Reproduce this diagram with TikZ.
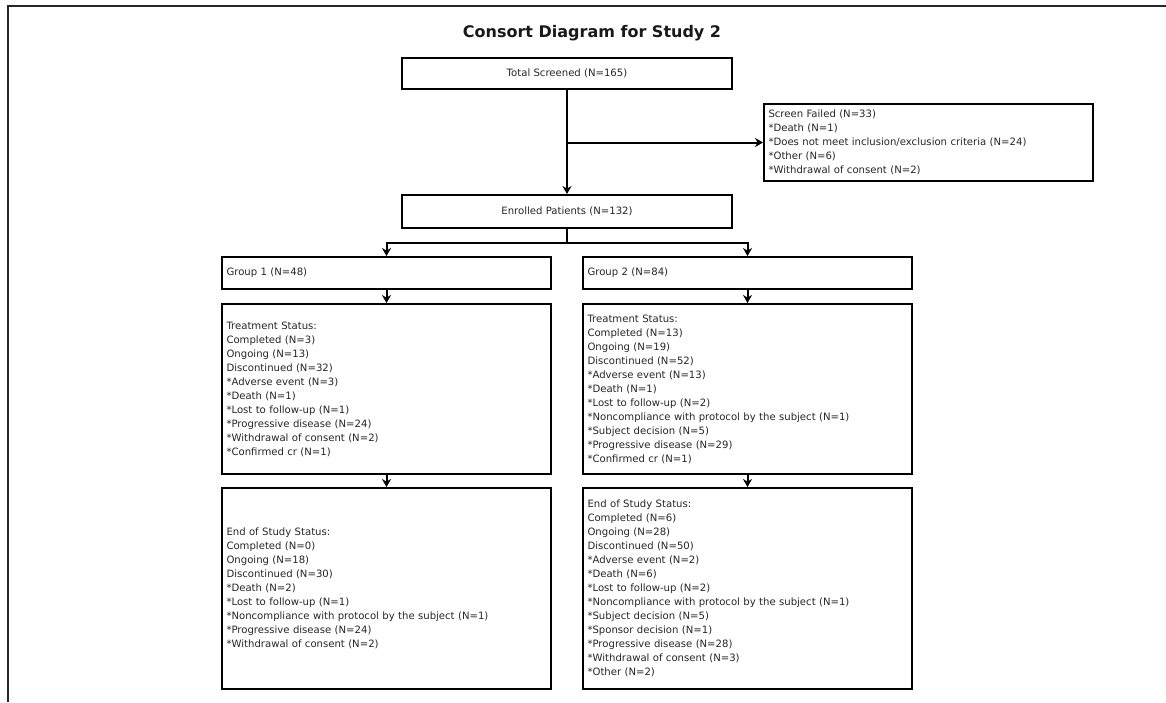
\documentclass[tikz,border=0pt]{standalone}
\usepackage{fontspec}
\setmainfont{DejaVu Sans}
\usetikzlibrary{arrows.meta}
\begin{document}
\begin{tikzpicture}[x=1pt,y=-1pt,
  box/.style={draw=black,line width=1.9pt,inner sep=0pt,
    font=\fontsize{10.1}{14}\selectfont,text=black!85},
  cbox/.style={box,align=center},
  lbox/.style={box,align=left,inner xsep=4.5pt},
  arr/.style={line width=2pt,-{Stealth[length=8pt,width=9pt,inset=2.5pt]}},
  seg/.style={line width=2pt}]
\useasboundingbox (0,0) rectangle (1166,702);
% outer frame (only top and left edges fall inside the page)
\draw[line width=2pt,black!85] (8,702) -- (8,6) -- (1166,6);

\node[font=\bfseries\fontsize{16}{18}\selectfont,text=black!90] (title) at (592,33) {Consort Diagram for Study 2};

\node[cbox,minimum width=330pt,minimum height=31pt] (total) at (567,73.5) {Total Screened (N=165)};
\node[cbox,minimum width=330pt,minimum height=33pt] (enrolled) at (567,211.5) {Enrolled Patients (N=132)};

\node[lbox,text width=320pt,minimum height=77pt] (screen) at (928.5,142.5)
  {Screen Failed (N=33)\\{}%
   *Death (N=1)\\{}%
   *Does not meet inclusion/exclusion criteria (N=24)\\{}%
   *Other (N=6)\\{}%
   *Withdrawal of consent (N=2)};

\node[lbox,text width=320pt,minimum height=32pt] (g1) at (386.5,273) {Group 1 (N=48)};
\node[lbox,text width=320pt,minimum height=32pt] (g2) at (747.5,273) {Group 2 (N=84)};

\node[lbox,text width=320pt,minimum height=170pt] (t1) at (386.5,389)
  {Treatment Status:\\
   Completed (N=3)\\
   Ongoing (N=13)\\
   Discontinued (N=32)\\{}%
   *Adverse event (N=3)\\{}%
   *Death (N=1)\\{}%
   *Lost to follow-up (N=1)\\{}%
   *Progressive disease (N=24)\\{}%
   *Withdrawal of consent (N=2)\\{}%
   *Confirmed cr (N=1)};
\node[lbox,text width=320pt,minimum height=170pt] (t2) at (747.5,389)
  {Treatment Status:\\
   Completed (N=13)\\
   Ongoing (N=19)\\
   Discontinued (N=52)\\{}%
   *Adverse event (N=13)\\{}%
   *Death (N=1)\\{}%
   *Lost to follow-up (N=2)\\{}%
   *Noncompliance with protocol by the subject (N=1)\\{}%
   *Subject decision (N=5)\\{}%
   *Progressive disease (N=29)\\{}%
   *Confirmed cr (N=1)};

\node[lbox,text width=320pt,minimum height=201pt] (e1) at (386.5,588.5)
  {End of Study Status:\\
   Completed (N=0)\\
   Ongoing (N=18)\\
   Discontinued (N=30)\\{}%
   *Death (N=2)\\{}%
   *Lost to follow-up (N=1)\\{}%
   *Noncompliance with protocol by the subject (N=1)\\{}%
   *Progressive disease (N=24)\\{}%
   *Withdrawal of consent (N=2)};
\node[lbox,text width=320pt,minimum height=201pt] (e2) at (747.5,588.5)
  {End of Study Status:\\
   Completed (N=6)\\
   Ongoing (N=28)\\
   Discontinued (N=50)\\{}%
   *Adverse event (N=2)\\{}%
   *Death (N=6)\\{}%
   *Lost to follow-up (N=2)\\{}%
   *Noncompliance with protocol by the subject (N=1)\\{}%
   *Subject decision (N=5)\\{}%
   *Sponsor decision (N=1)\\{}%
   *Progressive disease (N=28)\\{}%
   *Withdrawal of consent (N=3)\\{}%
   *Other (N=2)};

% connectors
\draw[arr] (total.south) -- (enrolled.north);
\draw[arr] (total.south |- screen.west) -- (screen.west);
\coordinate (split) at (567,243);
\draw[seg] (enrolled.south) -- (split);
\draw[arr] (split) -| (g1.north);
\draw[arr] (split) -| (g2.north);
\draw[arr] (g1.south) -- (t1.north);
\draw[arr] (g2.south) -- (t2.north);
\draw[arr] (t1.south) -- (e1.north);
\draw[arr] (t2.south) -- (e2.north);
\end{tikzpicture}
\end{document}
